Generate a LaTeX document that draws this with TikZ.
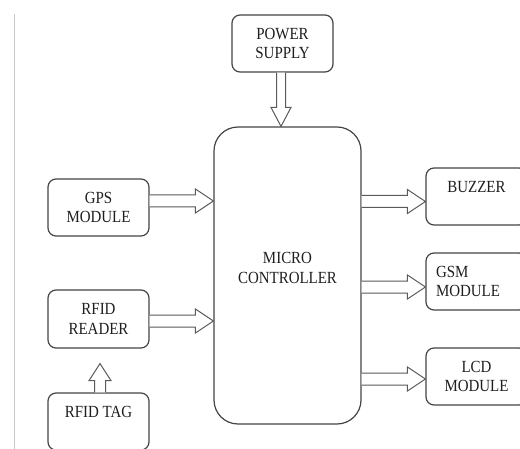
\documentclass[tikz,border=0pt]{standalone}
\usepackage{fontspec}
\setmainfont{Liberation Serif}[FakeStretch=0.88]
\usetikzlibrary{calc}

\definecolor{boxgray}{HTML}{454545}
\definecolor{arrowgray}{HTML}{5A5A5A}
\definecolor{textdark}{HTML}{1E1E1E}
\definecolor{rulegray}{HTML}{C8C8C8}

\tikzset{
  block/.style={draw=boxgray, line width=1.2pt, rounded corners=8pt,
    minimum width=101pt, minimum height=57pt, align=center, inner sep=0pt,
    font=\fontsize{17}{19.5}\selectfont, text=textdark},
  hollow/.style={draw=arrowgray, line width=1pt, fill=white, line join=miter},
}

% hollow block arrow pointing right, from #1.east to #2.west at height #3
\newcommand{\blockarrowright}[3]{%
  \draw[hollow] let \p1=(#1.east), \p2=(#2.west) in
    (\x1,#3pt+6pt) -- (\x2-18pt,#3pt+6pt) -- (\x2-18pt,#3pt+12pt) -- (\x2,#3pt)
    -- (\x2-18pt,#3pt-12pt) -- (\x2-18pt,#3pt-6pt) -- (\x1,#3pt-6pt);
}

\begin{document}
\begin{tikzpicture}[x=1pt,y=1pt]
  \clip (0,0) rectangle (520,448);
  \fill[white] (0,0) rectangle (520,448);

  % thin margin rule on the left
  \draw[rulegray, line width=1pt] (14,434) -- (14,-5);

  % blocks
  \node[block] (ps) at (282.5,404.5) {POWER\\SUPPLY};
  \node[block, minimum width=147pt, minimum height=297pt, rounded corners=24pt] (mc) at (287.5,172.5) {};
  \node[font=\fontsize{17}{19.5}\selectfont, text=textdark, align=center, inner sep=0pt] (mctext) at (287.5,180) {MICRO\\CONTROLLER};

  \node[block] (gps) at (98.5,240.5) {GPS\\MODULE};
  \node[block, minimum height=58pt] (reader) at (98.5,129) {RFID\\READER};
  \node[block] (tag) at (98.5,26.5) {RFID TAG\\\mbox{}};

  \node[block] (buzzer) at (476.5,251.5) {BUZZER\\\mbox{}};
  \node[block, align=left, text width=81pt, inner xsep=10pt] (gsm) at (476.5,166.5) {GSM\\MODULE};
  \node[block] (lcd) at (476.5,71.5) {LCD\\MODULE};

  % power supply feeds the controller
  \draw[hollow] let \p1=(ps.south), \p2=(mc.north) in
    (276.5pt,\y1) -- (276.5pt,\y2+19pt) -- (271pt,\y2+19pt) -- (281pt,\y2)
    -- (291pt,\y2+19pt) -- (285.5pt,\y2+19pt) -- (285.5pt,\y1);

  % inputs
  \blockarrowright{gps}{mc}{247}
  \blockarrowright{reader}{mc}{127}

  % outputs
  \blockarrowright{mc}{buzzer}{246.5}
  \blockarrowright{mc}{gsm}{161}
  \blockarrowright{mc}{lcd}{69}

  % tag read by the reader
  \draw[hollow] let \p1=(tag.north), \p2=(reader.south) in
    (94.5pt,\y1) -- (94.5pt,\y2-32pt) -- (89pt,\y2-32pt) -- (100pt,\y2-15pt)
    -- (111pt,\y2-32pt) -- (105.5pt,\y2-32pt) -- (105.5pt,\y1);
\end{tikzpicture}
\end{document}
